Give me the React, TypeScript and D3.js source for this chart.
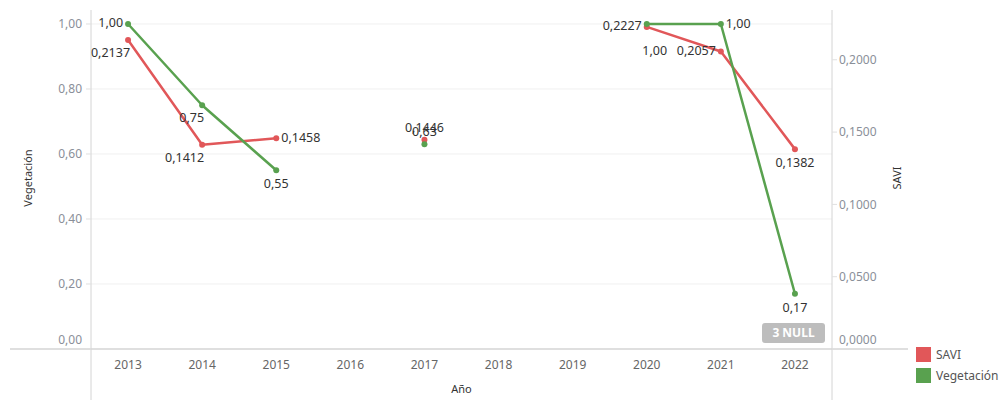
import React from 'react'
import * as d3 from 'd3'

// datos
const years = ['2013', '2014', '2015', '2016', '2017', '2018', '2019', '2020', '2021', '2022']
const vegetacion: (number | null)[] = [1.0, 0.75, 0.55, null, 0.63, null, null, 1.0, 1.0, 0.17]
const savi: (number | null)[] = [0.2137, 0.1412, 0.1458, null, 0.1446, null, null, 0.2227, 0.2057, 0.1382]
const leftTicks = [0, 0.2, 0.4, 0.6, 0.8, 1.0]
const rightTicks = [0, 0.05, 0.1, 0.15, 0.2]
const nullCount = 3

// donde va cada etiqueta
type Pos = 'left' | 'right' | 'above' | 'below' | 'belowLeft' | 'belowFar'
const vegLabelPos: Pos[] = ['left', 'belowLeft', 'below', 'below', 'above', 'below', 'below', 'belowFar', 'right', 'below']
const saviLabelPos: Pos[] = ['belowLeft', 'belowLeft', 'right', 'below', 'above', 'below', 'below', 'left', 'left', 'below']

const RED = '#e15759'
const GREEN = '#59a14f'
const FONT = '"Noto Sans", sans-serif'

const W = 1002
const H = 400
const plot = { left: 91, right: 832, top: 10, bottom: 349 }

const fmt2 = (v: number) => v.toFixed(2).replace('.', ',')
const fmt4 = (v: number) => v.toFixed(4).replace('.', ',')

const labelOffset = (p: Pos) => {
  switch (p) {
    case 'left': return { dx: -5, dy: 3, anchor: 'end' }
    case 'right': return { dx: 5, dy: 4, anchor: 'start' }
    case 'above': return { dx: 0, dy: -8, anchor: 'middle' }
    case 'below': return { dx: 0, dy: 18, anchor: 'middle' }
    case 'belowFar': return { dx: 8, dy: 31, anchor: 'middle' }
    default: return { dx: 2, dy: 17, anchor: 'end' }
  }
}

const App = () => {
  const x = d3.scaleBand().domain(years).range([plot.left, plot.right]).padding(0)
  const yL = d3.scaleLinear().domain([0, 1.043]).range([plot.bottom, plot.top])
  const yR = d3.scaleLinear().domain([0, 0.2344]).range([plot.bottom, plot.top])
  const cx = (i: number) => (x(years[i]) as number) + x.bandwidth() / 2

  const lineL = d3.line<number | null>()
    .defined((d) => d !== null)
    .x((_, i) => cx(i))
    .y((d) => yL(d as number))
  const lineR = d3.line<number | null>()
    .defined((d) => d !== null)
    .x((_, i) => cx(i))
    .y((d) => yR(d as number))

  const series = [
    { name: 'SAVI', values: savi, y: yR, line: lineR, color: RED, fmt: fmt4, pos: saviLabelPos },
    { name: 'Vegetación', values: vegetacion, y: yL, line: lineL, color: GREEN, fmt: fmt2, pos: vegLabelPos },
  ]

  return (
    <svg width={W} height={H} style={{ position: 'absolute', left: 0, top: 0, fontFamily: FONT }}>
      <rect width={W} height={H} fill="#fff" />
      {/* rejilla */}
      {leftTicks.slice(1).map((t) => (
        <line key={t} x1={plot.left} x2={plot.right} y1={yL(t)} y2={yL(t)} stroke="#f0f0f0" />
      ))}
      {/* ejes */}
      <line x1={plot.left} x2={plot.left} y1={plot.top} y2={H} stroke="#d4d4d4" />
      <line x1={plot.right} x2={plot.right} y1={plot.top} y2={H} stroke="#d4d4d4" />
      <line x1={10} x2={908} y1={plot.bottom} y2={plot.bottom} stroke="#d4d4d4" strokeWidth={1.5} />
      {leftTicks.map((t, i) => (
        <g key={t}>
          <line x1={plot.left - 5} x2={plot.left} y1={yL(t)} y2={yL(t)} stroke="#e0e0e0" />
          <text x={plot.left - 9} y={i === 0 ? yL(t) - 9 : yL(t)} dy="0.35em" textAnchor="end" fontSize={12} fill="#8a8f99">
            {fmt2(t)}
          </text>
        </g>
      ))}
      {rightTicks.map((t, i) => (
        <g key={t}>
          <line x1={plot.right} x2={plot.right + 5} y1={yR(t)} y2={yR(t)} stroke="#e0e0e0" />
          <text x={plot.right + 7} y={i === 0 ? yR(t) - 9 : yR(t)} dy="0.35em" textAnchor="start" fontSize={12} fill="#8a8f99">
            {fmt4(t)}
          </text>
        </g>
      ))}
      {years.map((yr) => (
        <text key={yr} x={(x(yr) as number) + x.bandwidth() / 2} y={plot.bottom + 16} dy="0.35em" textAnchor="middle" fontSize={12} fill="#666">
          {yr}
        </text>
      ))}
      {/* títulos */}
      <text transform={`translate(32,178) rotate(-90)`} textAnchor="middle" fontSize={11} fill="#333">
        Vegetación
      </text>
      <text transform={`translate(901,178) rotate(-90)`} textAnchor="middle" fontSize={11} fill="#333">
        SAVI
      </text>
      <text x={(plot.left + plot.right) / 2} y={393} textAnchor="middle" fontSize={11} fill="#333">
        Año
      </text>
      {/* series */}
      {series.map((s) => (
        <g key={s.name}>
          <path d={s.line(s.values) ?? ''} fill="none" stroke={s.color} strokeWidth={2.5} strokeLinejoin="round" />
          {s.values.map((v, i) => v === null ? null : (
            <circle key={i} cx={cx(i)} cy={s.y(v)} r={3} fill={s.color} />
          ))}
        </g>
      ))}
      {series.map((s) => (
        <g key={s.name + '-lab'}>
          {s.values.map((v, i) => {
            if (v === null) return null
            const o = labelOffset(s.pos[i])
            return (
              <text key={i} x={cx(i) + o.dx} y={s.y(v) + o.dy} textAnchor={o.anchor} fontSize={12.5} fill="#333">
                {s.fmt(v)}
              </text>
            )
          })}
        </g>
      ))}
      {/* nulos */}
      <rect x={762} y={323} width={63} height={20} rx={3} fill="#bdbdbd" />
      <text x={793.5} y={333} dy="0.35em" textAnchor="middle" fontSize={12} fontWeight="bold" fill="#fff">
        {`${nullCount} NULL`}
      </text>
      {/* leyenda */}
      {series.map((s, i) => (
        <g key={s.name + '-leg'} transform={`translate(916,${347 + i * 21})`}>
          <rect width={15} height={15} fill={s.color} />
          <text x={20} y={8} dy="0.35em" fontSize={12} fill="#555">{s.name}</text>
        </g>
      ))}
    </svg>
  )
}

export default App
